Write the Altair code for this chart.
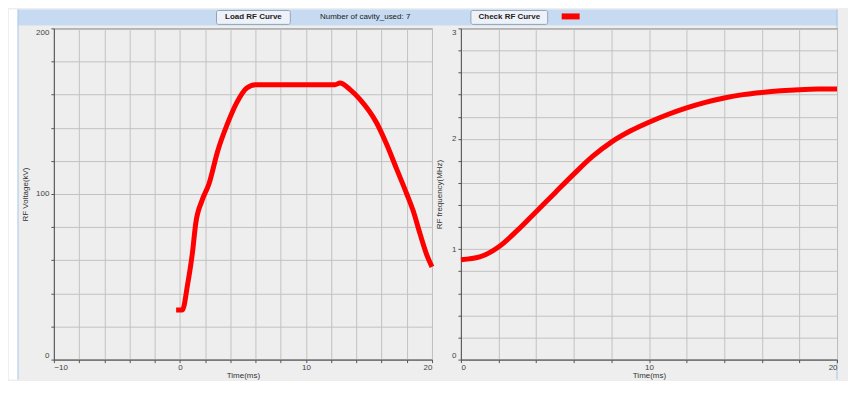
import altair as alt
import pandas as pd

# ---- data ----
left_time = [-0.3, 0.2, 0.6, 1.0, 1.25, 1.75, 2.3, 3.0, 3.75, 4.5, 5.3, 6.0,
             12.3, 12.7, 13.5, 14.3, 15.6, 16.4, 17.2, 18.0, 18.5, 19.05, 19.6, 20.0]
left_voltage = [30, 30, 45, 65, 82, 96, 106, 126, 142, 155, 164, 166,
                166, 167, 163, 157, 143, 130, 115, 100, 90, 76, 63, 56]

right_time = [0, 1, 2, 3, 4, 5, 6, 7, 8, 9, 10, 11, 12, 13, 14, 15, 16, 17, 18, 19, 20]
right_freq = [0.905, 0.93, 1.02, 1.17, 1.34, 1.51, 1.68, 1.84, 1.97, 2.07, 2.15,
              2.22, 2.28, 2.33, 2.37, 2.40, 2.42, 2.435, 2.445, 2.45, 2.45]

left_x_ticks = list(range(-10, 21, 2))
left_y_ticks = list(range(0, 201, 20))
right_x_ticks = list(range(0, 21, 2))
right_y_ticks = [round(i * 0.2, 1) for i in range(16)]

button_labels = ["Load RF Curve", "Check RF Curve"]
cavity_text = "Number of cavity_used: 7"

FONT = "Liberation Sans"
W_L, W_R, H = 379, 377, 332
BOTTOM = 352  # lowest decoration pixel, relative to plot top
RIGHT = 785.5  # right frame edge, relative to left plot origin

one = pd.DataFrame({"k": [0]})


def box(x0, x1, y0, y1, **kw):
    return alt.Chart(one).mark_rect(**kw).encode(
        x=alt.value(x0), x2=alt.value(x1), y=alt.value(y0), y2=alt.value(y1))


def vline(x, y0, y1, color):
    return alt.Chart(one).mark_rule(color=color, strokeWidth=1).encode(
        x=alt.value(x), y=alt.value(y0), y2=alt.value(y1))


def label(txt, x, y, **kw):
    return alt.Chart(one).mark_text(text=txt, font=FONT, fontSize=8, baseline="middle",
                                    align="center", **kw).encode(x=alt.value(x), y=alt.value(y))


# toolbar / frame decoration (pixels relative to left plot origin)
deco = [
    box(-45, -36, -19, BOTTOM, color="#ffffff"),
    box(-36, RIGHT, -19, -3, color="#c6dbf1"),
    vline(-36, -19, BOTTOM, "#a8c5e8"),
    vline(RIGHT - 0.5, -19, BOTTOM, "#a8c5e8"),
    box(163, 237, -18, -4, fill="#eef2f8", stroke="#8ea2bc", strokeWidth=1, cornerRadius=2),
    label(button_labels[0], 200, -11, fontWeight="bold", color="#222222"),
    label(cavity_text, 312, -11, color="#222222"),
    box(418, 495, -18, -4, fill="#eef2f8", stroke="#8ea2bc", strokeWidth=1, cornerRadius=2),
    label(button_labels[1], 456.5, -11, fontWeight="bold", color="#222222"),
    box(509, 527, -15, -9, color="#ff0000"),
]


def xaxis(values, width):
    return alt.Axis(values=values, labelExpr="datum.value % 10 === 0 ? datum.label : ''",
                    labelFlush=True, labelPadding=1, title="Time(ms)",
                    titleX=width / 2, titleY=15.5, titleBaseline="middle", titleAlign="center")


left_df = pd.DataFrame({"t": left_time, "v": left_voltage})
left_line = alt.Chart(left_df).mark_line(color="#ff0000", strokeWidth=5, interpolate="monotone").encode(
    x=alt.X("t:Q", scale=alt.Scale(domain=[-10, 20], nice=False, zero=False), axis=xaxis(left_x_ticks, W_L)),
    y=alt.Y("v:Q", scale=alt.Scale(domain=[0, 200], nice=False),
            axis=alt.Axis(values=left_y_ticks, labelExpr="datum.value % 100 === 0 ? datum.label : ''",
                          labelFlush=True, title="RF Voltage(kV)", titleX=-28, titleY=H / 2,
                          titleBaseline="middle", titleAlign="center", titleAngle=270)),
)

right_df = pd.DataFrame({"t": right_time, "f": right_freq})
right_line = alt.Chart(right_df).mark_line(color="#ff0000", strokeWidth=5, interpolate="monotone").encode(
    x=alt.X("t:Q", scale=alt.Scale(domain=[0, 20], nice=False, zero=False), axis=xaxis(right_x_ticks, W_R)),
    y=alt.Y("f:Q", scale=alt.Scale(domain=[0, 3], nice=False),
            axis=alt.Axis(values=right_y_ticks,
                          labelExpr="abs(datum.value - round(datum.value)) < 0.001 ? format(datum.value, 'd') : ''",
                          labelFlush=True, title="RF frequency(MHz)", titleX=-21, titleY=H / 2,
                          titleBaseline="middle", titleAlign="center", titleAngle=270)),
)

left = alt.layer(*deco, left_line).properties(width=W_L, height=H)
right = right_line.properties(width=W_R, height=H)

chart = alt.hconcat(left, right, spacing=29, bounds="flush", padding=0).configure(
    background="#eeeeee"
).configure_view(
    fill="#eeeeee", stroke="#666666", strokeWidth=1
).configure_axis(
    domainColor="#555555", tickColor="#555555", gridColor="#c2c2c2", gridWidth=1,
    labelFont=FONT, labelFontSize=8, labelColor="#444444",
    titleFont=FONT, titleFontSize=8, titleFontWeight="normal", titleColor="#333333",
    tickSize=3, labelPadding=2, labelOverlap=False,
)

chart.save("out.html", embed_options={"renderer": "svg", "actions": False})
